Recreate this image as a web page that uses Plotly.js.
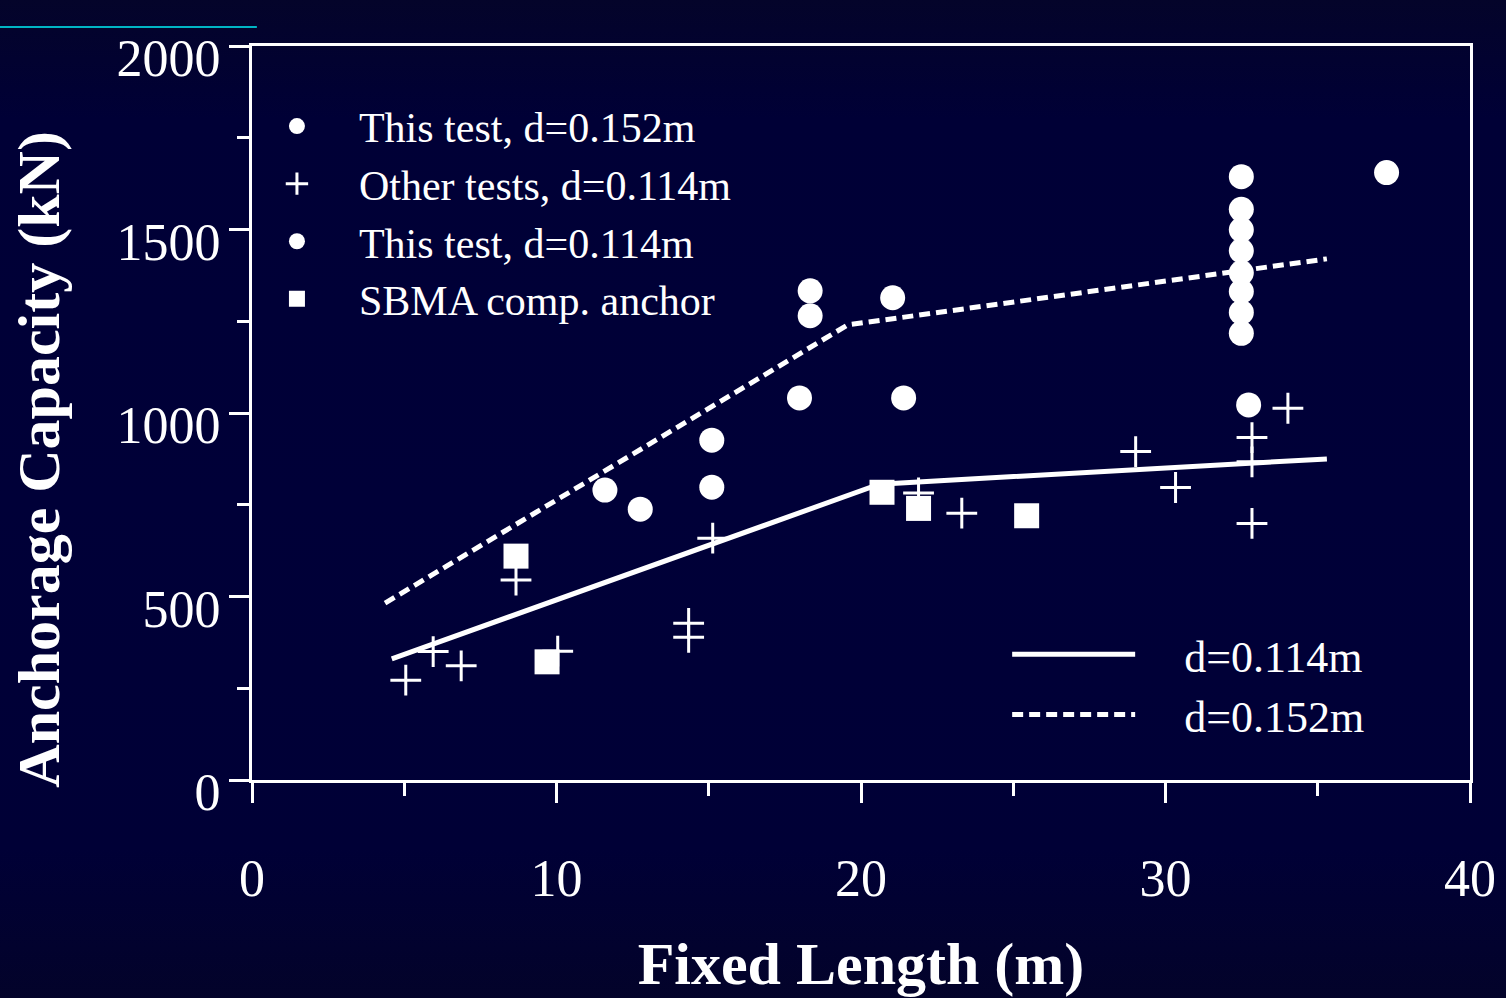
<!DOCTYPE html>
<html>
<head>
<meta charset="utf-8">
<script src="https://cdn.plot.ly/plotly-3.0.1.min.js"></script>
<style>
  html, body { margin:0; padding:0; width:1506px; height:998px; overflow:hidden;
    background: linear-gradient(to bottom, #04042a 0%, #000036 12%, #000038 50%, #000036 85%, #03032a 100%); }
  #chart { width:1506px; height:998px; }
</style>
</head>
<body>
<div id="chart"></div>
<script>
// ---- data ----
const thisTest152X = [32.49, 32.49, 32.49, 32.49, 32.49, 32.49, 32.49, 32.49, 37.26];
const thisTest152Y = [1644, 1555, 1499, 1442, 1382, 1331, 1274, 1217, 1655];

const otherTestsX = [5.05, 5.95, 6.87, 8.67, 10.04, 14.34, 14.34, 15.13, 21.89, 23.31, 29.02, 30.33, 32.84, 32.84, 32.84, 34.02];
const otherTestsY = [272, 350, 311, 545, 351, 427, 389, 659, 782, 727, 895, 797, 933, 867, 699, 1013];

const thisTest114X = [11.59, 12.75, 15.1, 15.1, 17.98, 18.33, 18.33, 21.04, 21.4, 32.73];
const thisTest114Y = [790, 738, 926, 798, 1041, 1333, 1265, 1314, 1041, 1022];

const sbmaX = [8.67, 9.69, 20.69, 21.89, 25.44];
const sbmaY = [610, 322, 784, 740, 720];

const fit114X = [4.59, 20.6, 35.3];
const fit114Y = [330, 806, 875];
const fit152X = [4.37, 19.56, 35.3];
const fit152Y = [482, 1240, 1420];

const xTickVals = [0, 10, 20, 30, 40];
const yTickVals = [0, 500, 1000, 1500, 2000];

const xTitle = 'Fixed Length (m)';
const yTitle = 'Anchorage Capacity (kN)';

// ---- styles ----
const FONT = 'Liberation Serif, Times New Roman, serif';
const W = 'white';
const PAD = '\u2002\u2002';

const traces = [
  { x: thisTest152X, y: thisTest152Y, type: 'scatter', mode: 'markers', name: 'This test, d=0.152m',
    marker: { symbol: 'circle', size: 25, color: W }, legend: 'legend' },
  { x: otherTestsX, y: otherTestsY, type: 'scatter', mode: 'markers', name: 'Other tests, d=0.114m',
    marker: { symbol: 'cross-thin', size: 22, color: W, line: { color: W, width: 3 } }, legend: 'legend' },
  { x: thisTest114X, y: thisTest114Y, type: 'scatter', mode: 'markers', name: 'This test, d=0.114m',
    marker: { symbol: 'circle', size: 25, color: W }, legend: 'legend' },
  { x: sbmaX, y: sbmaY, type: 'scatter', mode: 'markers', name: 'SBMA comp. anchor',
    marker: { symbol: 'square', size: 25, color: W }, legend: 'legend' },
  { x: fit114X, y: fit114Y, type: 'scatter', mode: 'lines', name: PAD + 'd=0.114m',
    line: { color: W, width: 5 }, legend: 'legend2' },
  { x: fit152X, y: fit152Y, type: 'scatter', mode: 'lines', name: PAD + 'd=0.152m',
    line: { color: W, width: 5, dash: '11px,6px' }, legend: 'legend2' }
];

const layout = {
  width: 1506, height: 998,
  paper_bgcolor: 'rgba(0,0,0,0)', plot_bgcolor: 'rgba(0,0,0,0)',
  margin: { l: 252, r: 36, t: 46, b: 218 },
  font: { family: FONT, color: W },
  showlegend: true,
  xaxis: {
    range: [0, 40], tickvals: xTickVals, ticktext: xTickVals.map(String),
    showgrid: false, zeroline: false, showline: true, linecolor: W, linewidth: 3, mirror: true,
    ticks: 'outside', ticklen: 20, tickwidth: 3, tickcolor: W,
    minor: { dtick: 5, ticks: 'outside', ticklen: 13, tickwidth: 3, tickcolor: W, showgrid: false },
    tickfont: { family: FONT, size: 52, color: W }, ticklabelstandoff: 31,
    title: { text: '<b>' + xTitle + '</b>', font: { family: FONT, size: 60, color: W }, standoff: 36 }
  },
  yaxis: {
    range: [0, 2000], tickvals: yTickVals, ticktext: yTickVals.map(String),
    showgrid: false, zeroline: false, showline: true, linecolor: W, linewidth: 3, mirror: true,
    ticks: 'outside', ticklen: 20, tickwidth: 3, tickcolor: W,
    minor: { dtick: 250, ticks: 'outside', ticklen: 12, tickwidth: 3, tickcolor: W, showgrid: false },
    tickfont: { family: FONT, size: 52, color: W }, ticklabelshift: 12, ticklabelstandoff: -2
  },
  annotations: [
    { text: '<b>' + yTitle + '</b>', xref: 'paper', yref: 'paper', x: -0.1745, y: 0.437,
      xanchor: 'center', yanchor: 'middle', textangle: -90, showarrow: false,
      font: { family: FONT, size: 60, color: W } }
  ],
  legend: {
    x: -0.014, y: 0.937, xanchor: 'left', yanchor: 'top', bgcolor: 'rgba(0,0,0,0)',
    font: { family: FONT, size: 42, color: W }, itemwidth: 114, tracegroupgap: 0
  },
  legend2: {
    x: 0.62, y: 0.219, xanchor: 'left', yanchor: 'top', bgcolor: 'rgba(0,0,0,0)',
    font: { family: FONT, size: 44, color: W }, itemwidth: 123, tracegroupgap: 0
  },
  shapes: [
    { type: 'line', xref: 'paper', yref: 'paper', x0: -0.207, x1: 0.004, y0: 1.026, y1: 1.026,
      line: { color: '#00b4c4', width: 2 } }
  ]
};

Plotly.newPlot('chart', traces, layout, { displayModeBar: false, staticPlot: true });
</script>
</body>
</html>
